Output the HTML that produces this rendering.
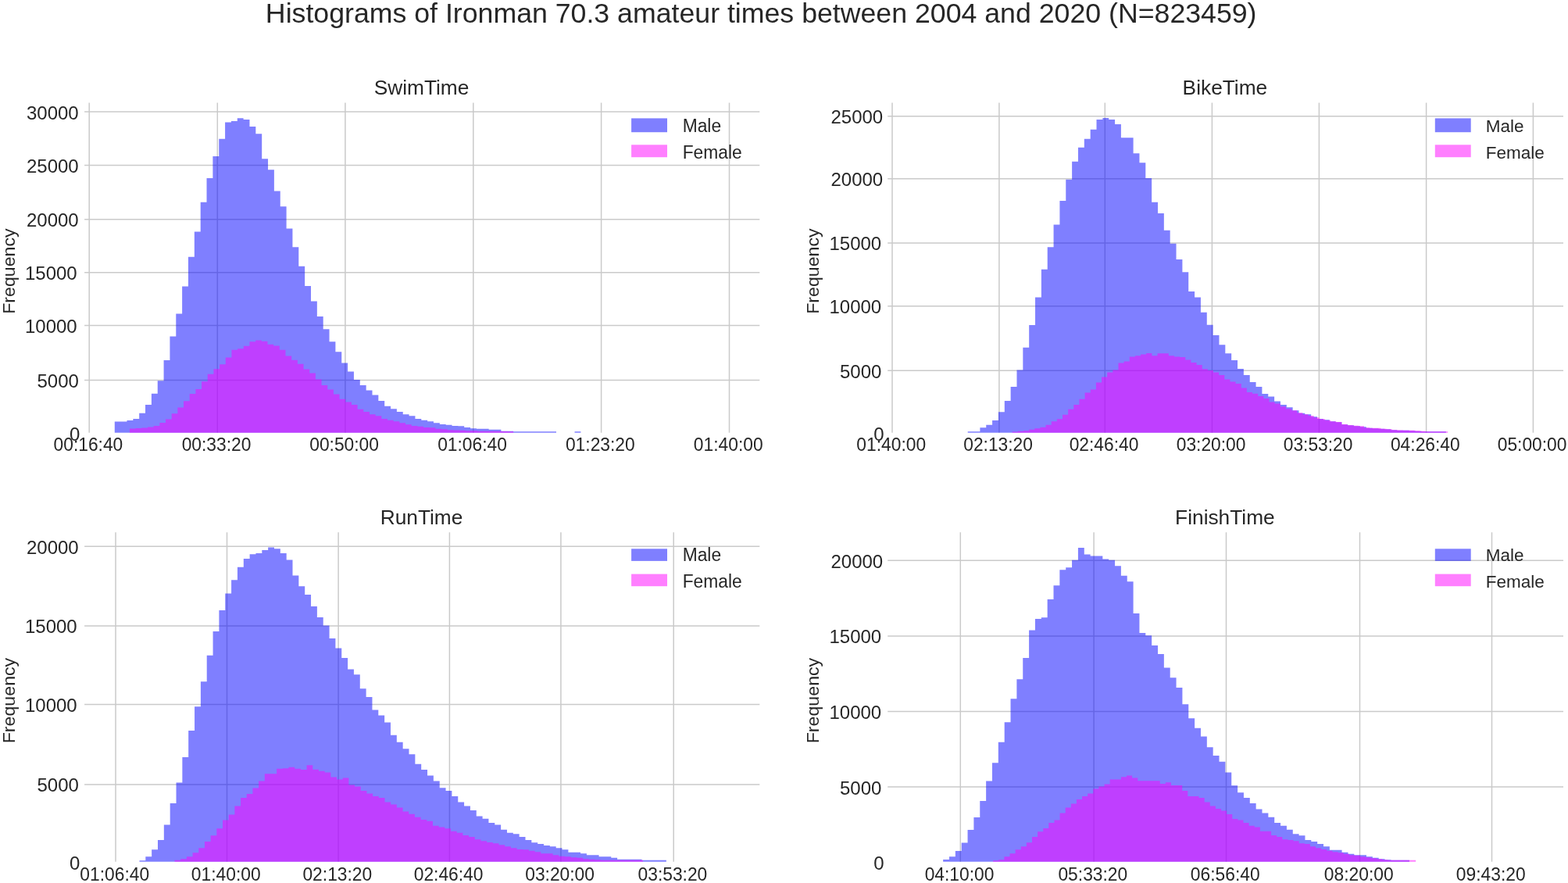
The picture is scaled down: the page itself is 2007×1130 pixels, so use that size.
<!DOCTYPE html>
<html lang="en">
<head>
<meta charset="utf-8">
<title>Histograms of Ironman 70.3 amateur times</title>
<style>
html,body{margin:0;padding:0;background:#fff;}
body{width:2007px;height:1130px;overflow:hidden;}
svg{display:block;}
text{font-family:"Liberation Sans",sans-serif;fill:#262626;}
</style>
</head>
<body>
<svg width="2007" height="1130" viewBox="0 0 2007 1130" style="filter:blur(0.35px)">
<rect width="2007" height="1130" fill="#ffffff"/>
<text x="974.2" y="29.4" font-size="35.7" text-anchor="middle">Histograms of Ironman 70.3 amateur times between 2004 and 2020 (N=823459)</text>
<g>
<path d="M114.2 131.5V553.7M278.3 131.5V553.7M441.9 131.5V553.7M605.8 131.5V553.7M769.6 131.5V553.7M933.5 131.5V553.7M108.1 486.4H972.3M108.1 416.5H972.3M108.1 348.73H972.3M108.1 280.63H972.3M108.1 211.48H972.3M108.1 143.12H972.3" stroke="#cacaca" stroke-width="1.5" fill="none"/>
<path d="M146.78 553.7V539.51H154.63V539.51H162.48V537.92H170.33V536.12H178.18V528.75H186.03V517.99H193.88V503.84H201.73V487.29H209.58V460.99H217.43V430.49H225.28V401.59H233.13V366.4H240.98V328.7H248.83V296.42H256.68V258.75H264.53V228.06H272.38V199.96H280.23V177.83H288.08V156.51H295.93V154.91H303.78V151.33H311.63V152.92H319.48V161.89H327.33V171.26H335.18V203.14H343.03V217.29H350.89V244.4H358.74V264.13H366.59V292.43H374.44V316.15H382.29V340.86H390.14V365.91H397.99V385.44H405.84V404.97H413.69V421.32H421.54V437.26H429.39V450.21H437.24V464.56H445.09V475.53H452.94V486.09H460.79V493.06H468.64V499.44H476.49V505.42H484.34V512.99H492.19V519.77H500.04V523.36H507.89V526.95H515.74V530.33H523.59V532.33H531.44V535.91H539.29V537.71H547.14V539.3H554.99V541.3H562.84V542.89H570.69V543.69H578.54V544.88H586.39V545.28H594.24V546.88H602.09V548.27H609.94V548.67H617.79V548.87H625.64V549.87H633.49V549.87H641.34V551.66H649.19V551.66H657.04V552.26H664.89V552.26H672.74V552.26H680.59V552.26H688.44V552.26H696.29V552.26H704.14V552.26H711.99V553.7ZM735.54 553.7V552.26H743.39V553.7Z" fill="#0000ff" fill-opacity="0.5"/>
<path d="M165.95 553.7V548.48H173.63V547.88H181.3V547.48H188.98V546.49H196.65V545.09H204.33V541.11H212V536.52H219.68V529.15H227.35V521.57H235.03V513.2H242.7V504.04H250.38V498.06H258.05V488.29H265.73V478.72H273.4V472.15H281.08V466.17H288.75V457.4H296.43V447.83H304.1V446.24H311.78V442.85H319.45V437.27H327.13V435.48H334.8V436.87H342.48V440.86H350.15V442.45H357.83V447.83H365.5V455.41H373.18V460.79H380.85V465.77H388.53V472.54H396.2V477.52H403.88V485.49H411.55V493.06H419.23V498.45H426.9V504.42H434.58V510.8H442.26V514.59H449.93V517.98H457.61V523.76H465.28V526.95H472.96V530.33H480.63V532.33H488.31V535.91H495.98V537.71H503.66V539.3H511.33V541.3H519.01V543.29H526.68V544.88H534.36V545.68H542.03V546.88H549.71V547.27H557.38V548.67H565.06V549.27H572.73V550.26H580.41V550.46H588.08V550.86H595.76V551.26H603.43V551.26H611.11V551.66H618.78V551.66H626.46V551.86H634.13V551.86H641.81V552.06H649.48V552.26H657.16V553.7Z" fill="#ff00ff" fill-opacity="0.5"/>
<text transform="translate(539.5 120.7) scale(1 1.01)" font-size="26.3" text-anchor="middle">SwimTime</text>
<text transform="translate(112.9 577) scale(1 1.04)" font-size="22.8" text-anchor="middle">00:16:40</text>
<text transform="translate(277 577) scale(1 1.04)" font-size="22.8" text-anchor="middle">00:33:20</text>
<text transform="translate(440.6 577) scale(1 1.04)" font-size="22.8" text-anchor="middle">00:50:00</text>
<text transform="translate(604.5 577) scale(1 1.04)" font-size="22.8" text-anchor="middle">01:06:40</text>
<text transform="translate(768.3 577) scale(1 1.04)" font-size="22.8" text-anchor="middle">01:23:20</text>
<text transform="translate(932.2 577) scale(1 1.04)" font-size="22.8" text-anchor="middle">01:40:00</text>
<text transform="translate(102.3 563.9) scale(1 1.0)" font-size="24" text-anchor="end">0</text>
<text transform="translate(100.9 495.9) scale(1 1.0)" font-size="24" text-anchor="end">5000</text>
<text transform="translate(98.7 426) scale(1 1.0)" font-size="24" text-anchor="end">10000</text>
<text transform="translate(98.7 358.23) scale(1 1.0)" font-size="24" text-anchor="end">15000</text>
<text transform="translate(100.7 290.13) scale(1 1.0)" font-size="24" text-anchor="end">20000</text>
<text transform="translate(100.7 220.98) scale(1 1.0)" font-size="24" text-anchor="end">25000</text>
<text transform="translate(100.7 152.62) scale(1 1.0)" font-size="24" text-anchor="end">30000</text>
<text transform="translate(19 347.1) rotate(-90) scale(1.045 1)" font-size="22.2" text-anchor="middle">Frequency</text>
<rect x="808.1" y="151.4" width="45.9" height="17.8" fill="#0000ff" fill-opacity="0.5"/>
<rect x="808.1" y="185.3" width="45.9" height="15.9" fill="#ff00ff" fill-opacity="0.5"/>
<text transform="translate(873.7 168.5) scale(1 1.03)" font-size="22.8">Male</text>
<text transform="translate(873.7 202.5) scale(1 1.03)" font-size="22.8">Female</text>
</g>
<g>
<path d="M1142 131.5V553.7M1278.9 131.5V553.7M1414.3 131.5V553.7M1551.4 131.5V553.7M1688.4 131.5V553.7M1825.6 131.5V553.7M1962.4 131.5V553.7M1136.2 474.14H2001M1136.2 391.66H2001M1136.2 310.94H2001M1136.2 228.85H2001M1136.2 148.63H2001" stroke="#cacaca" stroke-width="1.5" fill="none"/>
<path d="M1238.7 553.7V552.26H1246.55V552.26H1254.39V547.27H1262.24V543.69H1270.09V537.91H1277.94V527.34H1285.79V512.99H1293.64V495.06H1301.48V473.53H1309.33V444.83H1317.18V415.93H1325.03V380.46H1332.88V344.65H1340.73V316.35H1348.57V287.45H1356.42V256.96H1364.27V229.65H1372.12V206.73H1379.97V188.79H1387.81V177.83H1395.66V165.87H1403.51V152.92H1411.36V150.93H1419.21V152.92H1427.06V158.9H1434.9V176.24H1442.75V176.24H1450.6V196.17H1458.45V208.33H1466.3V228.06H1474.14V258.75H1481.99V273.1H1489.84V294.82H1497.69V311.76H1505.54V332.09H1513.39V348.37H1521.23V372.88H1529.08V380.46H1536.93V399.79H1544.78V415.73H1552.63V429.09H1560.47V441.25H1568.32V452.21H1576.17V460.98H1584.02V471.94H1591.87V480.11H1599.72V489.08H1607.56V495.06H1615.41V504.03H1623.26V507.41H1631.11V513.39H1638.96V517.98H1646.81V521.37H1654.65V525.35H1662.5V528.74H1670.35V530.33H1678.2V533.32H1686.05V535.91H1693.89V537.31H1701.74V539.3H1709.59V540.3H1717.44V543.29H1725.29V544.29H1733.14V545.28H1740.98V546.28H1748.83V547.67H1756.68V548.27H1764.53V548.87H1772.38V549.27H1780.22V550.26H1788.07V550.66H1795.92V550.86H1803.77V551.26H1811.62V551.66H1819.47V552.26H1827.31V552.26H1835.16V552.26H1843.01V552.26H1850.86V553.7Z" fill="#0000ff" fill-opacity="0.5"/>
<path d="M1295.68 553.7V552.46H1302.82V551.86H1309.97V551.26H1317.12V549.67H1324.27V548.27H1331.42V546.68H1338.56V543.69H1345.71V539.3H1352.86V536.31H1360.01V530.73H1367.16V523.76H1374.3V517.98H1381.45V510.8H1388.6V502.43H1395.75V498.45H1402.9V489.48H1410.04V482.5H1417.19V476.52H1424.34V473.53H1431.49V464.56H1438.64V462.57H1445.78V456.59H1452.93V455.2H1460.08V453.6H1467.23V452.01H1474.38V455.2H1481.52V452.21H1488.67V452.21H1495.82V455.2H1502.97V456.59H1510.12V456.99H1517.26V460.58H1524.41V463.97H1531.56V466.96H1538.71V472.14H1545.86V473.93H1553V476.52H1560.15V480.11H1567.3V485.49H1574.45V488.48H1581.6V491.07H1588.74V496.45H1595.89V502.03H1603.04V503.83H1610.19V507.02H1617.34V510H1624.48V514.39H1631.63V516.38H1638.78V520.37H1645.93V523.36H1653.08V525.35H1660.22V528.34H1667.37V530.33H1674.52V531.93H1681.67V534.32H1688.82V536.31H1695.96V537.71H1703.11V539.3H1710.26V539.9H1717.41V542.89H1724.56V543.89H1731.7V544.68H1738.85V545.28H1746V547.27H1753.15V547.67H1760.3V547.87H1767.44V548.87H1774.59V549.27H1781.74V550.26H1788.89V550.46H1796.04V550.86H1803.18V550.86H1810.33V551.26H1817.48V551.86H1824.63V552.26H1831.78V552.26H1838.92V552.26H1846.07V552.26H1853.22V553.7Z" fill="#ff00ff" fill-opacity="0.5"/>
<text transform="translate(1567.9 120.7) scale(1 1.01)" font-size="26.3" text-anchor="middle">BikeTime</text>
<text transform="translate(1140.7 577) scale(1 1.04)" font-size="22.8" text-anchor="middle">01:40:00</text>
<text transform="translate(1277.6 577) scale(1 1.04)" font-size="22.8" text-anchor="middle">02:13:20</text>
<text transform="translate(1413 577) scale(1 1.04)" font-size="22.8" text-anchor="middle">02:46:40</text>
<text transform="translate(1550.1 577) scale(1 1.04)" font-size="22.8" text-anchor="middle">03:20:00</text>
<text transform="translate(1687.1 577) scale(1 1.04)" font-size="22.8" text-anchor="middle">03:53:20</text>
<text transform="translate(1824.3 577) scale(1 1.04)" font-size="22.8" text-anchor="middle">04:26:40</text>
<text transform="translate(1961.1 577) scale(1 1.04)" font-size="22.8" text-anchor="middle">05:00:00</text>
<text transform="translate(1131.6 563.9) scale(1 1.0)" font-size="24" text-anchor="end">0</text>
<text transform="translate(1128.4 483.64) scale(1 1.0)" font-size="24" text-anchor="end">5000</text>
<text transform="translate(1128.2 401.16) scale(1 1.0)" font-size="24" text-anchor="end">10000</text>
<text transform="translate(1128.2 320.44) scale(1 1.0)" font-size="24" text-anchor="end">15000</text>
<text transform="translate(1130.2 238.35) scale(1 1.0)" font-size="24" text-anchor="end">20000</text>
<text transform="translate(1130.2 158.13) scale(1 1.0)" font-size="24" text-anchor="end">25000</text>
<text transform="translate(1048.4 347.1) rotate(-90) scale(1.045 1)" font-size="22.2" text-anchor="middle">Frequency</text>
<rect x="1836.8" y="151.4" width="45.9" height="17.8" fill="#0000ff" fill-opacity="0.5"/>
<rect x="1836.8" y="185.3" width="45.9" height="15.9" fill="#ff00ff" fill-opacity="0.5"/>
<text transform="translate(1901.8 168.5) scale(1 1.0)" font-size="22.5">Male</text>
<text transform="translate(1901.8 202.5) scale(1 1.0)" font-size="22.5">Female</text>
</g>
<g>
<path d="M148 681.3V1102.8M290.5 681.3V1102.8M433.1 681.3V1102.8M575.4 681.3V1102.8M717.9 681.3V1102.8M862.2 681.3V1102.8M108.1 1003.9H972.3M108.1 901.55H972.3M108.1 800.9H972.3M108.1 699.35H972.3" stroke="#cacaca" stroke-width="1.5" fill="none"/>
<path d="M178.47 1102.8V1101.23H186.31V1096.24H194.15V1087.27H201.99V1074.92H209.84V1055.39H217.68V1028.08H225.52V1001.57H233.36V968.89H241.2V935.01H249.04V904.22H256.89V872.33H264.73V838.64H272.57V807.95H280.41V781.05H288.25V759.52H296.09V742.18H303.94V725.84H311.78V715.08H319.62V709.3H327.46V707.9H335.3V703.92H343.14V700.53H350.99V702.32H358.83V707.9H366.67V716.47H374.51V736.4H382.35V750.35H390.19V761.12H398.04V776.06H405.88V790.01H413.72V800.58H421.56V817.12H429.4V829.48H437.24V842.03H445.09V856.38H452.93V863.36H460.77V881.3H468.61V892.06H476.45V908.5H484.29V915.48H492.14V924.44H499.98V940.79H507.82V949.76H515.66V958.13H523.5V965.3H531.34V977.66H539.19V985.03H547.03V992.61H554.87V999.58H562.71V1008.15H570.55V1011.94H578.39V1018.91H586.24V1026.49H594.08V1031.47H601.92V1037.05H609.76V1044.42H617.6V1047.81H625.44V1052.99H633.29V1055.39H641.13V1061.76H648.97V1065.75H656.81V1067.34H664.65V1070.93H672.49V1074.92H680.34V1078.31H688.18V1079.9H696.02V1081.89H703.86V1083.29H711.7V1085.28H719.54V1087.27H727.39V1090.66H735.23V1090.66H743.07V1092.26H750.91V1094.25H758.75V1094.25H766.59V1096.24H774.44V1096.24H782.28V1097.84H790.12V1099.83H797.96V1099.83H805.8V1099.83H813.64V1099.83H821.49V1100.83H829.33V1100.83H837.17V1100.83H845.01V1100.83H852.85V1102.8Z" fill="#0000ff" fill-opacity="0.5"/>
<path d="M223.53 1102.8V1100.83H231.21V1099.23H238.9V1096.24H246.58V1091.26H254.27V1085.28H261.95V1076.91H269.63V1069.34H277.32V1060.37H285V1049.41H292.69V1042.43H300.37V1031.47H308.06V1021.11H315.74V1015.92H323.43V1008.55H331.11V999.58H338.8V990.21H346.48V990.21H354.16V983.64H361.85V983.24H369.53V981.64H377.22V983.64H384.9V985.03H392.59V979.25H400.27V984.63H407.96V986.63H415.64V988.62H423.33V994.6H431.01V997.59H438.69V995.6H446.38V1004.56H454.06V1006.56H461.75V1011.94H469.43V1015.53H477.12V1018.91H484.8V1020.91H492.49V1026.49H500.17V1029.48H507.85V1033.46H515.54V1038.45H523.22V1041.83H530.91V1045.82H538.59V1049.01H546.28V1050.8H553.96V1056.78H561.65V1058.38H569.33V1060.37H577.02V1063.76H584.7V1065.75H592.38V1068.94H600.07V1070.93H607.75V1074.32H615.44V1076.31H623.12V1077.91H630.81V1079.3H638.49V1081.3H646.18V1083.29H653.86V1085.28H661.55V1086.88H669.23V1087.27H676.91V1088.87H684.6V1090.26H692.28V1092.26H699.97V1092.26H707.65V1094.25H715.34V1095.84H723.02V1096.24H730.71V1097.24H738.39V1097.84H746.08V1099.23H753.76V1099.83H761.44V1100.23H769.13V1100.83H776.81V1100.83H784.5V1100.83H792.18V1100.83H799.87V1100.83H807.55V1100.83H815.24V1100.83H822.92V1102.8Z" fill="#ff00ff" fill-opacity="0.5"/>
<text transform="translate(539.5 670.5) scale(1 1.01)" font-size="26.3" text-anchor="middle">RunTime</text>
<text transform="translate(146.7 1126.6) scale(1 1.04)" font-size="22.8" text-anchor="middle">01:06:40</text>
<text transform="translate(289.2 1126.6) scale(1 1.04)" font-size="22.8" text-anchor="middle">01:40:00</text>
<text transform="translate(431.8 1126.6) scale(1 1.04)" font-size="22.8" text-anchor="middle">02:13:20</text>
<text transform="translate(574.1 1126.6) scale(1 1.04)" font-size="22.8" text-anchor="middle">02:46:40</text>
<text transform="translate(716.6 1126.6) scale(1 1.04)" font-size="22.8" text-anchor="middle">03:20:00</text>
<text transform="translate(860.9 1126.6) scale(1 1.04)" font-size="22.8" text-anchor="middle">03:53:20</text>
<text transform="translate(102.3 1113.2) scale(1 1.0)" font-size="24" text-anchor="end">0</text>
<text transform="translate(100.9 1013.4) scale(1 1.0)" font-size="24" text-anchor="end">5000</text>
<text transform="translate(98.7 911.05) scale(1 1.0)" font-size="24" text-anchor="end">10000</text>
<text transform="translate(98.7 810.4) scale(1 1.0)" font-size="24" text-anchor="end">15000</text>
<text transform="translate(100.7 708.85) scale(1 1.0)" font-size="24" text-anchor="end">20000</text>
<text transform="translate(19 896.55) rotate(-90) scale(1.045 1)" font-size="22.2" text-anchor="middle">Frequency</text>
<rect x="808.1" y="702.3" width="45.9" height="15.6" fill="#0000ff" fill-opacity="0.5"/>
<rect x="808.1" y="734.6" width="45.9" height="15.6" fill="#ff00ff" fill-opacity="0.5"/>
<text transform="translate(873.7 718.3) scale(1 1.03)" font-size="22.8">Male</text>
<text transform="translate(873.7 752.3) scale(1 1.03)" font-size="22.8">Female</text>
</g>
<g>
<path d="M1229.3 681.3V1102.8M1400.1 681.3V1102.8M1569.5 681.3V1102.8M1740.5 681.3V1102.8M1909.5 681.3V1102.8M1136.2 1007.1H2001M1136.2 910.45H2001M1136.2 813.95H2001M1136.2 717.2H2001" stroke="#cacaca" stroke-width="1.5" fill="none"/>
<path d="M1207.15 1102.8V1099.92H1215V1096.33H1222.85V1088.96H1230.71V1078.39H1238.56V1062.05H1246.41V1046.11H1254.27V1024.89H1262.12V999.58H1269.97V976.26H1277.82V949.76H1285.68V924.25H1293.53V894.25H1301.38V869.34H1309.24V842.03H1317.09V806.56H1324.94V792.01H1332.8V790.21H1340.65V767.1H1348.5V749.16H1356.35V729.23H1364.21V726.24H1372.06V716.87H1379.91V700.93H1387.77V709.5H1395.62V711.49H1403.47V711.49H1411.33V715.48H1419.18V716.87H1427.03V724.25H1434.88V736.8H1442.74V744.18H1450.59V785.03H1458.44V809.95H1466.3V813.13H1474.15V826.09H1482V837.05H1489.86V854.39H1497.71V867.34H1505.56V879.9H1513.41V901.23H1521.27V919.26H1529.12V931.82H1536.97V942.38H1544.83V956.13H1552.68V967.1H1560.53V974.67H1568.39V988.62H1576.24V1005.16H1584.09V1014.13H1591.94V1020.91H1599.8V1028.08H1607.65V1035.46H1615.5V1040.44H1623.36V1045.82H1631.21V1052.99H1639.06V1056.78H1646.92V1061.76H1654.77V1067.34H1662.62V1069.34H1670.47V1074.92H1678.33V1076.91H1686.18V1079.9H1694.03V1083.29H1701.89V1087.67H1709.74V1087.67H1717.59V1090.66H1725.45V1092.66H1733.3V1094.25H1741.15V1094.25H1749V1096.24H1756.86V1097.84H1764.71V1099.23H1772.56V1100.23H1780.42V1100.83H1788.27V1100.83H1796.12V1100.83H1803.98V1102.8Z" fill="#0000ff" fill-opacity="0.5"/>
<path d="M1271.15 1102.8V1101.31H1278.27V1100.23H1285.39V1096.24H1292.51V1092.26H1299.63V1087.27H1306.75V1083.29H1313.87V1078.31H1320.98V1070.93H1328.1V1064.35H1335.22V1059.97H1342.34V1052.99H1349.46V1049.41H1356.58V1040.44H1363.7V1033.46H1370.82V1028.48H1377.93V1022.9H1385.05V1018.91H1392.17V1015.53H1399.29V1009.55H1406.41V1006.56H1413.53V1003.57H1420.65V997.59H1427.77V997.59H1434.88V994.2H1442V992.61H1449.12V995.6H1456.24V999.18H1463.36V999.18H1470.48V999.18H1477.6V999.18H1484.72V1002.97H1491.83V1001.18H1498.95V1004.96H1506.07V1004.96H1513.19V1011.94H1520.31V1018.91H1527.43V1018.91H1534.55V1020.91H1541.67V1026.49H1548.78V1031.47H1555.9V1035.06H1563.02V1037.45H1570.14V1042.03H1577.26V1048.01H1584.38V1049.41H1591.5V1052.99H1598.61V1056.78H1605.73V1058.38H1612.85V1063.76H1619.97V1063.76H1627.09V1068.94H1634.21V1070.93H1641.33V1074.32H1648.45V1074.92H1655.56V1076.31H1662.68V1079.3H1669.8V1079.9H1676.92V1083.29H1684.04V1085.28H1691.16V1086.88H1698.28V1088.87H1705.4V1090.26H1712.51V1091.26H1719.63V1092.66H1726.75V1094.25H1733.87V1094.85H1740.99V1096.24H1748.11V1097.24H1755.23V1098.24H1762.35V1099.23H1769.46V1100.23H1776.58V1100.83H1783.7V1100.83H1790.82V1100.83H1797.94V1100.83H1805.06V1100.83H1812.18V1102.8Z" fill="#ff00ff" fill-opacity="0.5"/>
<text transform="translate(1567.9 670.5) scale(1 1.01)" font-size="26.3" text-anchor="middle">FinishTime</text>
<text transform="translate(1228 1126.6) scale(1 1.04)" font-size="22.8" text-anchor="middle">04:10:00</text>
<text transform="translate(1398.8 1126.6) scale(1 1.04)" font-size="22.8" text-anchor="middle">05:33:20</text>
<text transform="translate(1568.2 1126.6) scale(1 1.04)" font-size="22.8" text-anchor="middle">06:56:40</text>
<text transform="translate(1739.2 1126.6) scale(1 1.04)" font-size="22.8" text-anchor="middle">08:20:00</text>
<text transform="translate(1908.2 1126.6) scale(1 1.04)" font-size="22.8" text-anchor="middle">09:43:20</text>
<text transform="translate(1131.6 1113.2) scale(1 1.0)" font-size="24" text-anchor="end">0</text>
<text transform="translate(1128.4 1016.6) scale(1 1.0)" font-size="24" text-anchor="end">5000</text>
<text transform="translate(1128.2 919.95) scale(1 1.0)" font-size="24" text-anchor="end">10000</text>
<text transform="translate(1128.2 823.45) scale(1 1.0)" font-size="24" text-anchor="end">15000</text>
<text transform="translate(1130.2 726.7) scale(1 1.0)" font-size="24" text-anchor="end">20000</text>
<text transform="translate(1048.4 896.55) rotate(-90) scale(1.045 1)" font-size="22.2" text-anchor="middle">Frequency</text>
<rect x="1836.8" y="702.3" width="45.9" height="15.6" fill="#0000ff" fill-opacity="0.5"/>
<rect x="1836.8" y="734.6" width="45.9" height="15.6" fill="#ff00ff" fill-opacity="0.5"/>
<text transform="translate(1901.8 718.3) scale(1 1.0)" font-size="22.5">Male</text>
<text transform="translate(1901.8 752.3) scale(1 1.0)" font-size="22.5">Female</text>
</g>
</svg>
</body>
</html>
